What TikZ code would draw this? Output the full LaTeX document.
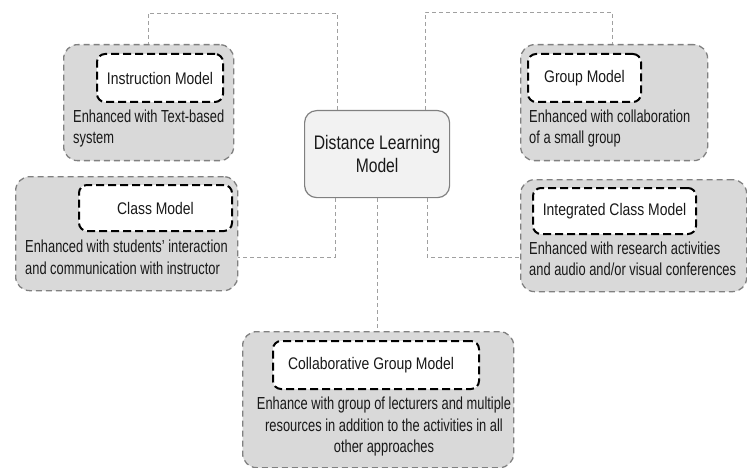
\documentclass[tikz,border=0pt]{standalone}
\usepackage{fontspec}
\setmainfont{Liberation Sans}[FakeStretch=0.8]
\newfontfamily\descfont{Liberation Sans}[FakeStretch=0.74]
\newfontfamily\titlefont{Liberation Sans}[FakeStretch=0.83]
\usetikzlibrary{calc}
\definecolor{outfill}{RGB}{217,217,217}
\definecolor{outline}{RGB}{128,128,128}
\definecolor{cenfill}{RGB}{242,242,242}
\definecolor{conncol}{RGB}{160,160,160}
\definecolor{txt}{RGB}{25,25,25}
\tikzset{
  outerbox/.style={draw=outline, fill=outfill, line width=1.3pt, dash pattern=on 6pt off 4pt, rounded corners=14pt, anchor=north west, inner sep=0pt},
  innerbox/.style={draw=black, fill=white, line width=2pt, dash pattern=on 8pt off 4pt, rounded corners=8pt, anchor=north west, inner sep=0pt, text=txt, font=\titlefont\fontsize{16.8}{20}\selectfont},
  centerbox/.style={draw=outline, fill=cenfill, line width=1.2pt, rounded corners=12pt, anchor=north west, inner sep=0pt, align=center, text=txt, font=\fontsize{19.6}{22.5}\selectfont},
  desc/.style={inner sep=0pt, align=left, anchor=west, text=txt, font=\descfont\fontsize{17.4}{21.5}\selectfont},
  descc/.style={inner sep=0pt, align=center, anchor=center, text=txt, font=\descfont\fontsize{17.4}{21.5}\selectfont},
  conn/.style={draw=conncol, line width=0.8pt, dash pattern=on 4pt off 3pt}
}
\begin{document}
\begin{tikzpicture}[x=1pt,y=-1pt]
\useasboundingbox (0,0) rectangle (747,468);
% center
\node[centerbox, minimum width=145pt, minimum height=87pt] (center) at (304,110) {Distance Learning\\Model};
% outer boxes
\node[outerbox, minimum width=170pt, minimum height=116pt] (inst) at (63,44) {};
\node[outerbox, minimum width=222pt, minimum height=114pt] (cls) at (15,176) {};
\node[outerbox, minimum width=187pt, minimum height=116pt] (grp) at (520,44) {};
\node[outerbox, minimum width=226pt, minimum height=112pt] (intc) at (520,179) {};
\node[outerbox, minimum width=271pt, minimum height=136pt] (coll) at (242,331) {};
% connectors
\coordinate (ta) at (148,13);
\coordinate (tb) at (612,12);
\coordinate (tc) at (0,257);
\draw[conn] ([xshift=33pt]center.north west) |- (ta) -- (inst.north -| ta);
\draw[conn] ([xshift=121pt]center.north west) |- (tb) -- (grp.north -| tb);
\draw[conn] ([xshift=31pt]center.south west) |- (cls.east |- tc);
\draw[conn] ([xshift=123pt]center.south west) |- (intc.west |- tc);
\draw[conn] (center.south) -- (center.south |- coll.north);
% inner title boxes
\node[innerbox, minimum width=126pt, minimum height=48pt] (instT) at (96,53) {Instruction Model};
\node[innerbox, minimum width=153pt, minimum height=46pt] (clsT) at (78,184) {Class Model};
\node[innerbox, minimum width=113pt, minimum height=48pt] (grpT) at (527,53) {Group Model};
\node[innerbox, minimum width=163pt, minimum height=46pt] (intcT) at (532,187) {Integrated Class Model};
\node[innerbox, minimum width=206pt, minimum height=48pt] (collT) at (272,340) {Collaborative Group Model\hspace*{10pt}};
% descriptions
\node[desc] (instD) at (73,128.5) {Enhanced with Text-based\\system};
\node[desc] (clsD) at (25,257.5) {Enhanced with students’ interaction\\and communication with instructor};
\node[desc] (grpD) at (529,128.5) {Enhanced with collaboration\\of a small group};
\node[desc] (intcD) at (529,259) {Enhanced with research activities\\and audio and/or visual conferences};
\node[descc] (collD) at (384,426.5) {Enhance with group of lecturers and multiple\\resources in addition to the activities in all\\other approaches};
\end{tikzpicture}
\end{document}
